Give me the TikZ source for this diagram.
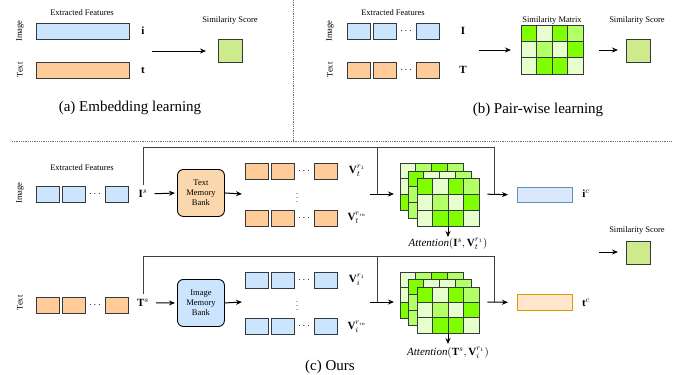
\documentclass[tikz,border=0pt]{standalone}
\usepackage{fontspec}
\setmainfont{Liberation Serif}
\usetikzlibrary{arrows.meta,calc}
\definecolor{fblue}{HTML}{CCE5FF}
\definecolor{forange}{HTML}{FFCC99}
\definecolor{edge}{HTML}{36393D}
\definecolor{scoreg}{HTML}{CDEB8B}
\definecolor{gA}{HTML}{80FF00}
\definecolor{gB}{HTML}{B3FF66}
\definecolor{gC}{HTML}{E6FFCC}
\definecolor{mbo}{HTML}{FAD7AC}
\definecolor{mbb}{HTML}{CCE5FF}
\definecolor{outb}{HTML}{DAE8FC}
\definecolor{outbd}{HTML}{6C8EBF}
\definecolor{outo}{HTML}{FFE6CC}
\definecolor{outod}{HTML}{D79B00}
\newcommand{\featrow}[4]{%
  \node[feat,fill=#4,anchor=west] (#1a) at (#2,#3) {};
  \node[feat,fill=#4,anchor=west] (#1b) at ({#2+26},#3) {};
  \node[feat,fill=#4,anchor=west] (#1c) at ({#2+69},#3) {};
  \node[inner sep=0pt] (#1d) at ({#2+59},#3) {$\cdots$};}
\newcommand{\simgrid}[5]{% x, y, cell w, cell h, colours
  \foreach \cc [count=\k from 0] in {#5} {
    \pgfmathtruncatemacro{\col}{mod(\k,4)}
    \pgfmathtruncatemacro{\row}{div(\k,4)}
    \filldraw[fill=\cc,draw=edge,line width=0.8pt] ({#1+\col*#3},{#2+\row*#4}) rectangle ++(#3,#4);
  }}
\begin{document}
\begin{tikzpicture}[x=1pt,y=-1pt,
  feat/.style={draw=edge,line width=0.8pt,minimum width=23pt,minimum height=16pt,inner sep=0pt,outer sep=0pt},
  longfeat/.style={draw=edge,line width=0.8pt,minimum width=93pt,minimum height=16pt,inner sep=0pt,anchor=north west},
  score/.style={draw=edge,line width=0.8pt,fill=scoreg,minimum width=24pt,minimum height=23pt,inner sep=0pt,anchor=north west},
  small/.style={font=\fontsize{8.5}{9.5}\selectfont,inner sep=0pt},
  side/.style={font=\fontsize{8.5}{9.5}\selectfont,inner sep=0pt,rotate=90},
  caption/.style={font=\fontsize{15}{17}\selectfont,inner sep=0pt},
  lab/.style={font=\fontsize{11}{12}\selectfont,inner sep=0pt},
  bank/.style={draw=black,line width=0.9pt,rounded corners=6pt,minimum width=47pt,minimum height=47pt,inner sep=0pt,align=center,font=\fontsize{8.5}{10}\selectfont,anchor=north west},
  arr/.style={line width=1pt,-{Stealth[length=6pt,width=5pt]}},
  line/.style={line width=0.9pt,draw=black!75},
  sep/.style={densely dotted,line width=0.8pt,draw=black!55},
  vd/.style={inner sep=0pt,font=\fontsize{8}{8}\selectfont}
]
\useasboundingbox (0,0) rectangle (681,375);
% separators
\draw[sep] (12,141) -- (672,141);
\draw[sep] (293,0) -- (293,141);

% ---------------- (a)
\node[small] (aext) at (82,13) {Extracted Features};
\node[side] (aimg) at (20,31) {Image};
\node[side] (atxt) at (20,70) {Text};
\node[longfeat,fill=fblue] (ai) at (36,23) {};
\node[longfeat,fill=forange] (at) at (36,62) {};
\node[lab] (ail) at (143,31) {$\mathbf{i}$};
\node[lab] (atl) at (143,70) {$\mathbf{t}$};
\node[small] (ascl) at (230,20) {Similarity Score};
\node[score] (asc) at (218,39) {};
\coordinate (aarr) at (152,51);
\draw[arr,shorten >=12pt] (aarr) -- (aarr -| asc.west);
\node[caption] (acap) at (130,108) {(a) Embedding learning};

% ---------------- (b)
\node[small] (bext) at (393,13) {Extracted Features};
\node[side] (bimg) at (330,31) {Image};
\node[side] (btxt) at (330,70) {Text};
\featrow{bI}{347}{31}{fblue}
\featrow{bT}{347}{70}{forange}
\node[lab] (bIl) at (463,31) {$\mathbf{I}$};
\node[lab] (bTl) at (463,70) {$\mathbf{T}$};
\node[small] (bsml) at (552,20) {Similarity Matrix};
\simgrid{521}{25}{15.5}{16.3}{gA,gC,gA,gB, gC,gB,gC,gA, gC,gA,gA,gC}
\node[minimum width=62pt,minimum height=49pt,inner sep=0pt,anchor=north west] (bsm) at (521,25) {};
\coordinate (barr) at (479,50);
\draw[arr,shorten >=10pt] (barr) -- (barr -| bsm.west);
\node[small] (bscl) at (637,20) {Similarity Score};
\node[score] (bsc) at (626,39) {};
\coordinate (barr2) at (599,50);
\draw[arr,shorten >=8pt] (barr2) -- (barr2 -| bsc.west);
\node[caption] (bcap) at (538,110) {(b) Pair-wise learning};

% ---------------- (c) top
\node[small] (cext) at (82,168) {Extracted Features};
\node[side] (cimg) at (20,193) {Image};
\featrow{cI}{36}{194}{fblue}
\node[lab] (cIs) at (143,194) {$\mathbf{I}^s$};
\node[bank,fill=mbo] (tmb) at (177,169) {Text\\Memory\\Bank};
\draw[arr,shorten <=7pt,shorten >=2pt] (cIs.east) -- (tmb.west);
\featrow{cV1}{245}{171}{forange}
\featrow{cVm}{245}{218}{forange}
\node[vd] (cvd) at (297,195) {$\vdots$};
\coordinate (tmbo) at (242,194);
\draw[arr] (tmb.east) -- (tmbo);
\node[lab] (cV1l) at (357,171) {$\mathbf{V}_t^{r_1}$};
\node[lab] (cVml) at (357,218) {$\mathbf{V}_t^{r_m}$};
% attention stack 1
\simgrid{400}{163}{15.75}{15.7}{gC,gB,gA,gB, gC,gB,gA,gC, gA,gC,gA,gB}
\simgrid{408}{171}{15.75}{15.7}{gA,gC,gC,gB, gB,gC,gB,gA, gB,gA,gA,gC}
\simgrid{417}{178}{15.5}{16}{gA,gC,gA,gB, gC,gB,gC,gA, gC,gA,gA,gC}
\node[minimum width=79pt,minimum height=63pt,inner sep=0pt,anchor=north west] (att1) at (400,163) {};
\coordinate (j1a) at (370,194);
\coordinate (j1b) at (377,194);
\coordinate (t1) at (494,147);
\coordinate (t1o) at (494,194);
\coordinate (t1m) at (377,147);
\draw[line] ($(cIs.north)+(0,-5)$) |- (t1) -- (t1o);
\draw[line] (t1m) -- (j1b);
\draw[arr,shorten >=6pt] (j1a) -- (j1a -| att1.west);
\node[draw=outbd,fill=outb,line width=0.8pt,minimum width=55pt,minimum height=15pt,inner sep=0pt,anchor=north west] (ic) at (517,187) {};
\node[lab] (icl) at (586,194) {$\mathbf{i}^c$};
\draw[arr,shorten <=8pt,shorten >=9pt] (att1.east |- t1o) -- (ic.west);
\coordinate (att1b) at (448,226);
\node[lab] (att1l) at (448,244) {$\mathit{Attention}(\mathbf{I}^s,\mathbf{V}_t^{r_1})$};
\draw[arr] (att1b) -- ++(0,11);

% final score
\node[small] (cscl) at (637,230) {Similarity Score};
\node[score] (csc) at (626,241) {};
\coordinate (carr) at (599,252);
\draw[arr,shorten >=8pt] (carr) -- (carr -| csc.west);

% ---------------- (c) bottom
\node[side] (ctxt) at (20,303) {Text};
\featrow{cT}{36}{305}{forange}
\node[lab] (cTs) at (143,303) {$\mathbf{T}^s$};
\node[bank,fill=mbb] (imb) at (177,279) {Image\\Memory\\Bank};
\draw[arr,shorten <=7pt,shorten >=2pt] (cTs.east) -- (imb.west);
\featrow{cW1}{245}{280}{fblue}
\featrow{cWm}{245}{326}{fblue}
\node[vd] (cwd) at (297,303) {$\vdots$};
\coordinate (imbo) at (242,302);
\draw[arr] (imb.east) -- (imbo);
\node[lab] (cW1l) at (357,280) {$\mathbf{V}_i^{r_1}$};
\node[lab] (cWml) at (357,327) {$\mathbf{V}_i^{r_m}$};
% attention stack 2
\simgrid{400}{272}{15.75}{15.4}{gC,gB,gA,gB, gC,gB,gA,gC, gA,gC,gA,gB}
\simgrid{408}{279}{15.75}{15.6}{gA,gC,gC,gB, gB,gC,gB,gA, gB,gA,gA,gC}
\simgrid{417}{287}{15.5}{15.4}{gA,gC,gA,gB, gC,gB,gC,gA, gC,gA,gA,gC}
\node[minimum width=79pt,minimum height=61pt,inner sep=0pt,anchor=north west] (att2) at (400,272) {};
\coordinate (j2a) at (370,302);
\coordinate (j2b) at (377,302);
\coordinate (t2) at (494,256);
\coordinate (t2o) at (494,302);
\coordinate (t2m) at (377,256);
\draw[line] ($(cTs.north)+(0,-5)$) |- (t2) -- (t2o);
\draw[line] (t2m) -- (j2b);
\draw[arr,shorten >=6pt] (j2a) -- (j2a -| att2.west);
\node[draw=outod,fill=outo,line width=0.8pt,minimum width=55pt,minimum height=16pt,inner sep=0pt,anchor=north west] (tc) at (517,294) {};
\node[lab] (tcl) at (586,303) {$\mathbf{t}^c$};
\draw[arr,shorten <=8pt,shorten >=9pt] (att2.east |- t2o) -- (tc.west);
\coordinate (att2b) at (448,333);
\node[lab] (att2l) at (448,353) {$\mathit{Attention}(\mathbf{T}^s,\mathbf{V}_i^{r_1})$};
\draw[arr] (att2b) -- ++(0,11);

\node[caption] (ccap) at (330,367) {(c) Ours};
\end{tikzpicture}
\end{document}
